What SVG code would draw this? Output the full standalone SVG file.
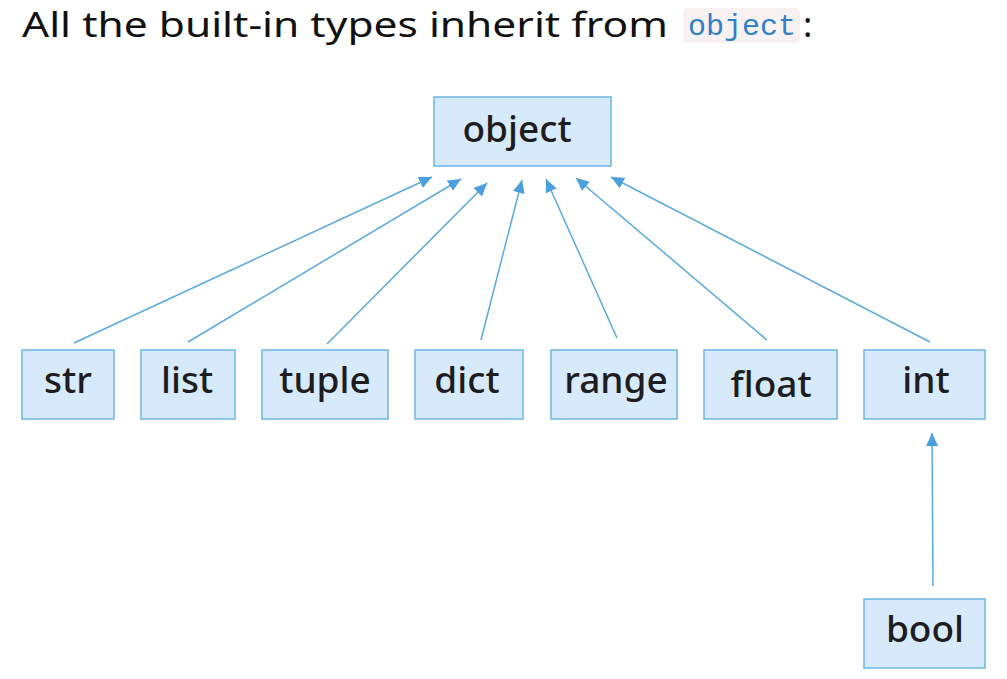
<svg xmlns="http://www.w3.org/2000/svg" width="1007" height="679" viewBox="0 0 1007 679">
<style>
.box{fill:#d7eafc;stroke:#6db5e5;stroke-width:1.5}
.lbl{font-family:"Noto Sans","Open Sans",sans-serif;font-size:37px;font-weight:500;fill:#1d1d1f;text-anchor:middle}
.edge{stroke:#5aa9df;stroke-width:1.5;fill:none;marker-end:url(#ah)}
</style>
<defs>
<marker id="ah" markerUnits="userSpaceOnUse" markerWidth="14" markerHeight="12" refX="13" refY="6" orient="auto">
<path d="M0,0 L13,6 L0,12 Z" fill="#4a9fdc"/>
</marker>
</defs>
<rect width="1007" height="679" fill="#ffffff"/>
<g id="heading">
<text x="22" y="37" font-family="Noto Sans, sans-serif" font-size="35" fill="#111" textLength="646" lengthAdjust="spacingAndGlyphs">All the built-in types inherit from</text>
<rect x="683" y="8" width="117" height="35" rx="4" fill="#f8f1f1"/>
<text x="742" y="35" font-family="Liberation Mono, monospace" font-size="30" fill="#2f7fc9" text-anchor="middle">object</text>
<text x="803" y="37" font-family="Noto Sans, sans-serif" font-size="35" fill="#111">:</text>
</g>
<g id="connectors">
<line class="edge" x1="74" y1="343" x2="432" y2="177"/>
<line class="edge" x1="188" y1="342" x2="461" y2="179"/>
<line class="edge" x1="327" y1="344" x2="487" y2="183"/>
<line class="edge" x1="481" y1="340" x2="522" y2="180"/>
<line class="edge" x1="617" y1="338" x2="546" y2="179"/>
<line class="edge" x1="767" y1="340" x2="576" y2="178"/>
<line class="edge" x1="930" y1="342" x2="611" y2="177"/>
<line class="edge" x1="933" y1="586" x2="932" y2="433"/>
</g>
<g id="object"><rect class="box" x="434" y="97" width="177" height="69"/><text class="lbl" x="517" y="142">object</text></g>
<g id="str"><rect class="box" x="22" y="350" width="92" height="69"/><text class="lbl" x="68" y="393">str</text></g>
<g id="list"><rect class="box" x="141" y="350" width="94" height="69"/><text class="lbl" x="187" y="393">list</text></g>
<g id="tuple"><rect class="box" x="262" y="350" width="126" height="69"/><text class="lbl" x="325" y="393">tuple</text></g>
<g id="dict"><rect class="box" x="415" y="350" width="108" height="69"/><text class="lbl" x="467" y="393">dict</text></g>
<g id="range"><rect class="box" x="551" y="350" width="126" height="69"/><text class="lbl" x="616" y="393">range</text></g>
<g id="float"><rect class="box" x="704" y="350" width="133" height="69"/><text class="lbl" x="771" y="397">float</text></g>
<g id="int"><rect class="box" x="864" y="350" width="121" height="69"/><text class="lbl" x="926" y="393">int</text></g>
<g id="bool"><rect class="box" x="864" y="599" width="121" height="69"/><text class="lbl" x="925" y="642">bool</text></g>
</svg>
